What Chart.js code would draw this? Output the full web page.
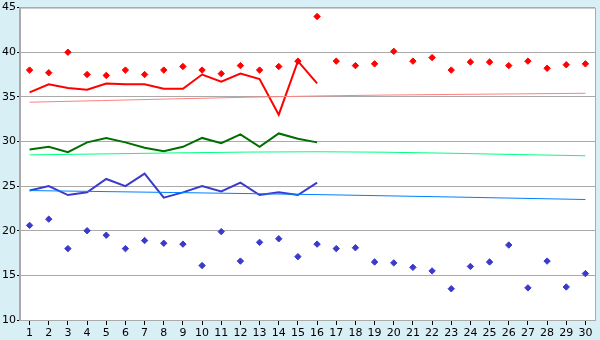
<!DOCTYPE html>
<html>
<head>
<meta charset="utf-8">
<script src="https://cdn.jsdelivr.net/npm/chart.js@4"></script>
<style>
  html, body { margin: 0; padding: 0; background: #d9eff6; }
  #wrap { width: 600px; height: 340px; }
</style>
</head>
<body>
<div id="wrap"><canvas id="chart" width="600" height="340"></canvas></div>
<script>
const days = Array.from({length: 30}, (_, i) => String(i + 1));

// daily max / min readings (diamonds)
const maxValues = [38.0, 37.7, 40.0, 37.5, 37.4, 38.0, 37.5, 38.0, 38.4, 38.0,
                   37.6, 38.5, 38.0, 38.4, 39.0, 44.0, 39.0, 38.5, 38.7, 40.1,
                   39.0, 39.4, 38.0, 38.9, 38.9, 38.5, 39.0, 38.2, 38.6, 38.7];
const minValues = [20.6, 21.3, 18.0, 20.0, 19.5, 18.0, 18.9, 18.6, 18.5, 16.1,
                   19.9, 16.6, 18.7, 19.1, 17.1, 18.5, 18.0, 18.1, 16.5, 16.4,
                   15.9, 15.5, 13.5, 16.0, 16.5, 18.4, 13.6, 16.6, 13.7, 15.2];

// lines for the first 16 days
const upperLine = [35.5, 36.4, 36.0, 35.8, 36.5, 36.4, 36.4, 35.9, 35.9, 37.5,
                   36.7, 37.6, 37.0, 33.0, 39.0, 36.5];
const middleLine = [29.1, 29.4, 28.8, 29.9, 30.4, 29.9, 29.3, 28.9, 29.4, 30.4,
                    29.8, 30.8, 29.4, 30.9, 30.3, 29.9];
const lowerLine = [24.5, 25.0, 24.0, 24.3, 25.8, 25.0, 26.4, 23.7, 24.3, 25.0,
                   24.4, 25.4, 24.0, 24.3, 24.0, 25.4];

// trend lines (read at start, middle, end)
const upperTrend = [34.4, null, null, null, null, null, null, null, null, null,
                    null, null, null, null, null, 35.1, null, null, null, null,
                    null, null, null, null, null, null, null, null, null, 35.4];
const middleTrend = [28.5, null, null, null, null, null, null, null, null, null,
                     null, null, null, null, null, 28.85, null, null, null, null,
                     null, null, null, null, null, null, null, null, null, 28.4];
const lowerTrend = [24.5, null, null, null, null, null, null, null, null, null,
                    null, null, null, null, null, 24.05, null, null, null, null,
                    null, null, null, null, null, null, null, null, null, 23.5];

const yTicks = [10, 15, 20, 25, 30, 35, 40, 45];

const bgPlugin = {
    id: 'bg',
    beforeDraw(chart) {
        const {ctx, chartArea: a} = chart;
        ctx.save();
        ctx.fillStyle = '#d9eff6';
        ctx.fillRect(0, 0, chart.width, chart.height);
        ctx.fillStyle = '#ffffff';
        ctx.fillRect(a.left, a.top, a.right - a.left, a.bottom - a.top);
        ctx.restore();
    },
    afterDatasetsDraw(chart) {
        const {ctx, chartArea: a} = chart;
        ctx.save();
        ctx.strokeStyle = '#aaaaaa';
        ctx.lineWidth = 1;
        ctx.beginPath();
        ctx.moveTo(a.left, a.top + 0.5);
        ctx.lineTo(a.right + 0.5, a.top + 0.5);
        ctx.lineTo(a.right + 0.5, a.bottom);
        ctx.stroke();
        ctx.restore();
    }
};

function trend(data, color) {
    return { data, borderColor: color, borderWidth: 1, pointRadius: 0,
             spanGaps: true, tension: 0.4, cubicInterpolationMode: 'monotone', fill: false };
}
function line(data, color) {
    return { data, borderColor: color, borderWidth: 2, pointRadius: 0, tension: 0, fill: false };
}
function dots(data, color) {
    return { data, showLine: false, pointStyle: 'rectRot', pointRadius: 3.2,
             pointBackgroundColor: color, pointBorderColor: color, borderColor: color };
}

new Chart(document.getElementById('chart'), {
    type: 'line',
    data: {
        labels: days,
        datasets: [
            trend(upperTrend, '#ff8080'),
            trend(middleTrend, '#00ff80'),
            trend(lowerTrend, '#0080ff'),
            line(upperLine, '#ff0000'),
            line(middleLine, '#006e00'),
            line(lowerLine, '#3a3acc'),
            dots(maxValues, '#ff0000'),
            dots(minValues, '#3a3acc')
        ]
    },
    options: {
        responsive: false,
        animation: false,
        layout: { padding: { top: 0, right: 5, left: 0, bottom: 0 } },
        plugins: { legend: { display: false }, tooltip: { enabled: false } },
        scales: {
            x: {
                offset: true,
                afterFit(scale) { scale.height = 20; },
                grid: { drawOnChartArea: false, drawTicks: true, tickLength: 5, tickColor: '#000000' },
                border: { color: '#aaaaaa', width: 1 },
                ticks: { color: '#000000', font: { family: 'DejaVu Sans', size: 11 }, padding: 2,
                         maxRotation: 0, autoSkip: false }
            },
            y: {
                min: 10,
                max: 45,
                afterFit(scale) { scale.width = 20; },
                afterBuildTicks(scale) { scale.ticks = yTicks.map(v => ({ value: v })); },
                grid: { color: '#aaaaaa', drawTicks: true, tickLength: 3, tickColor: '#000000' },
                border: { color: '#aaaaaa', width: 2 },
                ticks: { color: '#000000', font: { family: 'DejaVu Sans', size: 11 }, padding: 1 }
            }
        }
    },
    plugins: [bgPlugin]
});
</script>
</body>
</html>
